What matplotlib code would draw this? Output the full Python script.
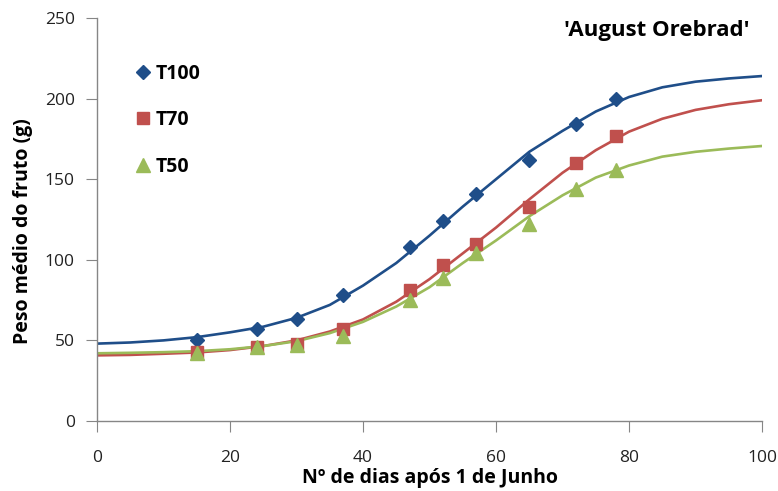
import matplotlib
matplotlib.use("Agg")
import matplotlib.pyplot as plt

plt.rcParams['font.family'] = ['Open Sans', 'DejaVu Sans']

# -------- dados observados --------
dias_obs = [15, 24, 30, 37, 47, 52, 57, 65, 72, 78]
t100_obs = [50, 57, 63, 78, 108, 124, 141, 162, 184, 200]
t70_obs = [43, 46, 48, 57, 81, 97, 110, 133, 160, 177]
t50_obs = [42, 46, 47, 53, 75, 89, 104, 122, 144, 156]

# -------- curvas ajustadas --------
dias_curva = [0, 5, 10, 15, 20, 25, 30, 35, 40, 45, 50,
              55, 60, 65, 70, 75, 80, 85, 90, 95, 100]
t100_curva = [48, 48.7, 50, 52, 55, 58.5, 64, 72, 84, 98, 115,
              133, 150, 167, 180, 192, 201, 207, 210.5, 212.5, 214]
t70_curva = [40.7, 41, 41.7, 42.5, 44, 46.5, 50, 55.5, 63, 74, 88,
             104, 120, 137.5, 154, 168, 179.5, 187.5, 193, 196.5, 199]
t50_curva = [42, 42.3, 42.7, 43.3, 44.5, 46.5, 49.5, 54.5, 61.5, 71, 83,
             98, 112, 127, 140, 151, 158.5, 164, 167, 169, 170.6]

azul = '#1F4E89'
vermelho = '#C0504D'
verde = '#9BBB59'

fig = plt.figure(figsize=(7.78, 4.91), dpi=100)
ax = fig.add_axes([0.1247, 0.1426, 0.8548, 0.8207])

ax.plot(dias_curva, t100_curva, color=azul, lw=1.9, zorder=2)
ax.plot(dias_curva, t70_curva, color=vermelho, lw=1.9, zorder=2)
ax.plot(dias_curva, t50_curva, color=verde, lw=1.9, zorder=2)

ax.plot(dias_obs, t100_obs, 'D', color=azul, ms=7, ls='none', label='T100', zorder=3)
ax.plot(dias_obs, t70_obs, 's', color=vermelho, ms=9, ls='none', label='T70', zorder=3)
ax.plot(dias_obs, t50_obs, '^', color=verde, ms=10, ls='none', label='T50', zorder=4)

ax.set_xlim(0, 100)
ax.set_ylim(0, 250)
ax.set_xticks([0, 20, 40, 60, 80, 100])
ax.set_yticks([0, 50, 100, 150, 200, 250])

for s in ['top', 'right']:
    ax.spines[s].set_visible(False)
for s in ['left', 'bottom']:
    ax.spines[s].set_color('#868686')
    ax.spines[s].set_linewidth(1.0)
ax.tick_params(direction='out', length=8, color='#868686', labelsize=12.5,
               labelcolor='#222222', pad=8)
ax.tick_params(axis='x', pad=13)

ax.set_xlabel('Nº de dias após 1 de Junho', fontsize=14, fontweight='bold', labelpad=1)
ax.set_ylabel('Peso médio do fruto (g)', fontsize=14, fontweight='bold')
ax.yaxis.set_label_coords(-0.096, 0.47)

ax.text(0.842, 0.968, "'August Orebrad'", transform=ax.transAxes, ha='center', va='center',
        fontsize=16, fontweight='bold')

leg = ax.legend(loc='upper left', bbox_to_anchor=(0.045, 0.91), frameon=False,
                handlelength=0.7, handletextpad=0.3, labelspacing=1.35,
                prop={'weight': 'bold', 'size': 14}, borderpad=0)

plt.savefig('out.png', dpi=100)
plt.close()
